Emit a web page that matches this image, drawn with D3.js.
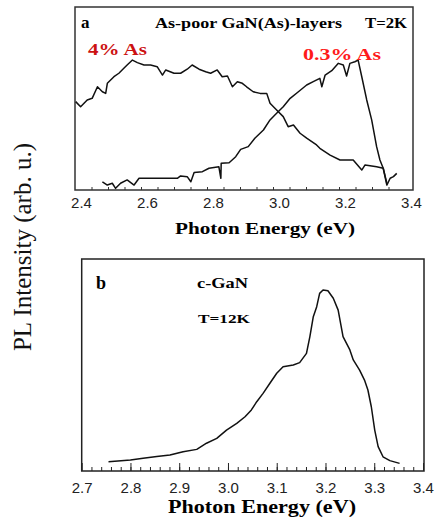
<!DOCTYPE html>
<html>
<head>
<meta charset="utf-8">
<script src="https://cdn.jsdelivr.net/npm/d3@7"></script>
<style>
  html, body { margin: 0; padding: 0; background: #fff; }
  svg { display: block; }
  .tick text { font-family: "Liberation Sans", Arial, sans-serif; font-size: 15px; fill: #222; }
  .ann { font-family: "Liberation Serif", "Times New Roman", serif; font-weight: bold; }
</style>
</head>
<body>
<div id="chart"></div>
<script>
// panel a: As-poor GaN(As) layers, T=2K  (energy eV, intensity arb.)
const energyA4 = [2.402, 2.417, 2.437, 2.452, 2.468, 2.483, 2.493, 2.498, 2.518, 2.533, 2.548, 2.558, 2.574, 2.589, 2.609, 2.629, 2.649, 2.665, 2.675, 2.700, 2.720, 2.740, 2.755, 2.776, 2.796, 2.811, 2.831, 2.846, 2.862, 2.877, 2.892, 2.907, 2.920, 2.940, 2.961, 2.981, 2.991, 3.011, 3.031, 3.046, 3.062, 3.082, 3.102, 3.132, 3.142, 3.173, 3.203, 3.243, 3.269, 3.279, 3.314, 3.334, 3.345, 3.355, 3.365, 3.375];
const intensA4 = [48.3, 45.5, 49.2, 50.1, 56.4, 53.7, 52.8, 58.3, 61.9, 63.8, 66.5, 68.3, 71.0, 69.6, 68.3, 68.3, 67.4, 62.8, 65.6, 63.8, 63.8, 66.0, 68.3, 66.0, 64.6, 63.8, 65.6, 61.9, 62.3, 56.4, 59.2, 58.3, 56.4, 53.7, 52.8, 52.8, 47.4, 43.7, 40.1, 34.6, 35.5, 31.0, 28.3, 24.6, 22.8, 19.1, 16.4, 16.4, 10.9, 13.7, 12.7, 11.9, 2.7, 6.4, 7.3, 9.1];

const energyA03 = [2.483, 2.498, 2.513, 2.523, 2.538, 2.558, 2.579, 2.594, 2.619, 2.660, 2.710, 2.720, 2.740, 2.751, 2.761, 2.786, 2.806, 2.836, 2.842, 2.843, 2.867, 2.887, 2.902, 2.925, 2.945, 2.971, 2.991, 3.011, 3.031, 3.052, 3.077, 3.102, 3.122, 3.142, 3.148, 3.158, 3.178, 3.198, 3.213, 3.223, 3.233, 3.248, 3.258, 3.269, 3.284, 3.299, 3.314, 3.324, 3.334, 3.345];
const intensA03 = [4.5, 2.7, 3.7, 0.9, 3.7, 5.5, 2.7, 6.4, 6.4, 6.4, 6.4, 7.7, 7.3, 4.5, 9.5, 10.0, 11.9, 12.7, 6.4, 14.6, 14.9, 18.2, 22.2, 23.7, 28.3, 32.8, 38.3, 41.9, 45.5, 50.1, 53.7, 57.4, 59.2, 61.0, 56.4, 62.8, 65.2, 69.2, 68.3, 62.3, 69.2, 70.1, 71.0, 61.9, 49.2, 38.3, 23.7, 16.4, 11.9, 3.7];

// panel b: c-GaN, T=12K
const energyB = [2.755, 2.800, 2.826, 2.854, 2.881, 2.908, 2.936, 2.956, 2.977, 2.997, 3.018, 3.035, 3.048, 3.059, 3.072, 3.086, 3.100, 3.113, 3.134, 3.147, 3.161, 3.168, 3.175, 3.182, 3.188, 3.195, 3.205, 3.216, 3.226, 3.236, 3.250, 3.257, 3.270, 3.280, 3.287, 3.294, 3.301, 3.308, 3.318, 3.332, 3.352];
const intensB = [4.4, 5.2, 6.0, 6.8, 7.5, 9.1, 10.2, 13.1, 15.4, 19.3, 22.5, 25.6, 28.8, 32.7, 36.6, 41.4, 46.1, 49.2, 50.0, 51.1, 55.5, 63.4, 72.8, 77.5, 83.8, 85.4, 85.0, 81.5, 75.9, 63.4, 57.1, 52.4, 47.6, 42.9, 38.2, 30.3, 19.3, 11.5, 6.7, 4.9, 3.6];

const ticksA = [2.4, 2.6, 2.8, 3.0, 3.2, 3.4];
const ticksB = [2.7, 2.8, 2.9, 3.0, 3.1, 3.2, 3.3, 3.4];

const W = 434, H = 525;
const svg = d3.select("#chart").append("svg").attr("width", W).attr("height", H);

const zip = (xs, ys) => xs.map((x, i) => [x, ys[i]]);

// ---------- panel a ----------
const xA = d3.scaleLinear().domain([2.4, 3.4]).range([75, 405]);
const yA = d3.scaleLinear().domain([0, 100]).range([190, 7]);

svg.append("rect")
    .attr("x", 75).attr("y", 7).attr("width", 413 - 75).attr("height", 190 - 7)
    .attr("fill", "none").attr("stroke", "#333").attr("stroke-width", 1.5);

const lineA = d3.line().x(d => xA(d[0])).y(d => yA(d[1]));
[zip(energyA4, intensA4), zip(energyA03, intensA03)].forEach(s => {
    svg.append("path").attr("d", lineA(s))
        .attr("fill", "none").attr("stroke", "#111").attr("stroke-width", 1.5)
        .attr("stroke-linejoin", "round");
});

// minor ticks every 0.05
svg.append("g").attr("transform", "translate(0,190)")
    .call(d3.axisBottom(xA).tickValues(d3.range(2.45, 3.4, 0.05)).tickSize(-3).tickFormat(""))
    .call(g => g.select(".domain").remove())
    .call(g => g.selectAll("line").attr("stroke", "#333"));
svg.append("g").attr("transform", "translate(0,190)")
    .call(d3.axisBottom(xA).tickValues(ticksA).tickSize(0).tickFormat(d3.format(".1f")))
    .call(g => g.select(".domain").remove())
    .call(g => g.selectAll("text").attr("y", 18).attr("dy", 0).attr("x", 6));

svg.append("text").attr("class", "ann").attr("x", 81).attr("y", 28)
    .attr("font-size", 17).text("a");
svg.append("text").attr("class", "ann").attr("x", 155).attr("y", 28)
    .attr("font-size", 15).attr("textLength", 187).attr("lengthAdjust", "spacingAndGlyphs")
    .text("As-poor GaN(As)-layers");
svg.append("text").attr("class", "ann").attr("x", 365).attr("y", 28)
    .attr("font-size", 15).attr("textLength", 42).attr("lengthAdjust", "spacingAndGlyphs")
    .text("T=2K");
svg.append("text").attr("class", "ann").attr("x", 88).attr("y", 55)
    .attr("font-size", 17).attr("fill", "#cc1111")
    .attr("textLength", 59).attr("lengthAdjust", "spacingAndGlyphs").text("4% As");
svg.append("text").attr("class", "ann").attr("x", 303).attr("y", 60)
    .attr("font-size", 17).attr("fill", "#ff1a1a")
    .attr("textLength", 78).attr("lengthAdjust", "spacingAndGlyphs").text("0.3% As");
svg.append("text").attr("class", "ann").attr("x", 175).attr("y", 234)
    .attr("font-size", 16).attr("textLength", 180).attr("lengthAdjust", "spacingAndGlyphs")
    .text("Photon Energy (eV)");

// ---------- panel b ----------
const xB = d3.scaleLinear().domain([2.7, 3.4]).range([81.7, 423]);
const yB = d3.scaleLinear().domain([0, 100]).range([471, 259]);

svg.append("rect")
    .attr("x", 81.7).attr("y", 259).attr("width", 424 - 81.7).attr("height", 471 - 259)
    .attr("fill", "none").attr("stroke", "#222").attr("stroke-width", 1.5);

const lineB = d3.line().x(d => xB(d[0])).y(d => yB(d[1]));
svg.append("path").attr("d", lineB(zip(energyB, intensB)))
    .attr("fill", "none").attr("stroke", "#111").attr("stroke-width", 1.5)
    .attr("stroke-linejoin", "round");

svg.append("g").attr("transform", "translate(0,471)")
    .call(d3.axisBottom(xB).tickValues(d3.range(2.72, 3.4, 0.02)).tickSize(-4).tickFormat(""))
    .call(g => g.select(".domain").remove())
    .call(g => g.selectAll("line").attr("stroke", "#222"));
svg.append("g").attr("transform", "translate(0,471)")
    .call(d3.axisBottom(xB).tickValues(ticksB).tickSize(-8).tickFormat(d3.format(".1f")))
    .call(g => g.select(".domain").remove())
    .call(g => g.selectAll("line").attr("stroke", "#222"))
    .call(g => g.selectAll("text").attr("y", 22).attr("dy", 0));

svg.append("text").attr("class", "ann").attr("x", 96).attr("y", 289)
    .attr("font-size", 18).text("b");
svg.append("text").attr("class", "ann").attr("x", 197).attr("y", 288)
    .attr("font-size", 15).attr("textLength", 51).attr("lengthAdjust", "spacingAndGlyphs")
    .text("c-GaN");
svg.append("text").attr("class", "ann").attr("x", 198).attr("y", 323)
    .attr("font-size", 12).attr("textLength", 52).attr("lengthAdjust", "spacingAndGlyphs")
    .text("T=12K");
svg.append("text").attr("class", "ann").attr("x", 168).attr("y", 513)
    .attr("font-size", 18).attr("textLength", 188).attr("lengthAdjust", "spacingAndGlyphs")
    .text("Photon Energy (eV)");

// shared y label
svg.append("text")
    .attr("transform", "translate(31,247) rotate(-90)")
    .attr("text-anchor", "middle")
    .attr("font-family", "Liberation Serif, Times New Roman, serif")
    .attr("font-size", 25)
    .attr("fill", "#111")
    .text("PL Intensity (arb. u.)");
</script>
</body>
</html>
